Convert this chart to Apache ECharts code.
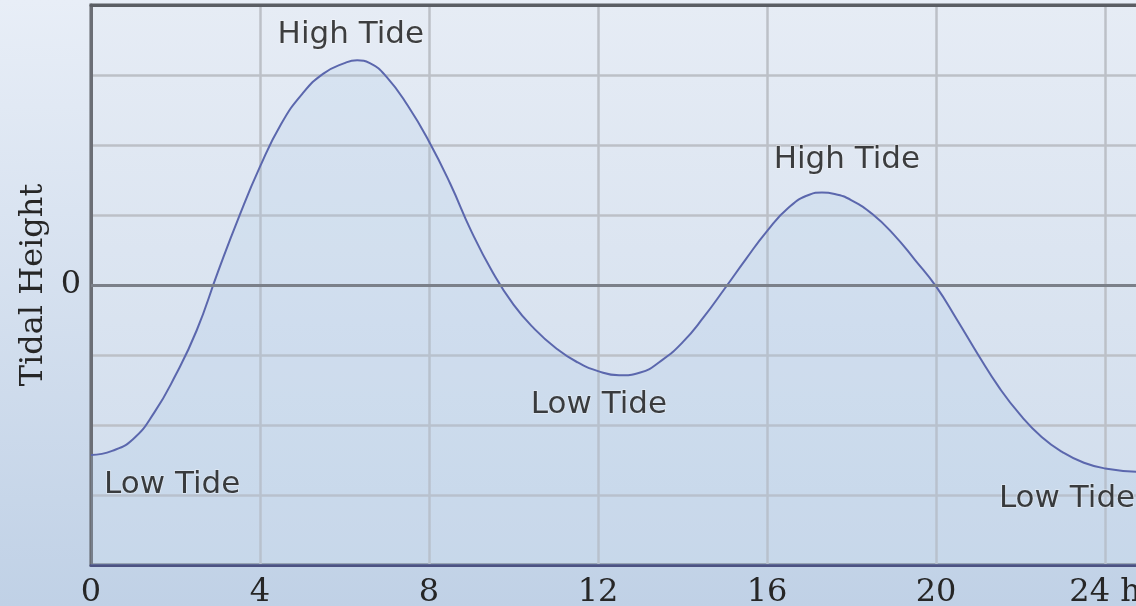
<!DOCTYPE html>
<html>
<head>
<meta charset="utf-8">
<script src="https://cdn.jsdelivr.net/npm/echarts@6/dist/echarts.min.js"></script>
<style>
html,body{margin:0;padding:0;width:1136px;height:606px;overflow:hidden;}
#chart{width:1136px;height:606px;}
</style>
</head>
<body>
<div id="chart"></div>
<script>
// Hours of the day and tidal height (arbitrary units, 0 = mean level)
const hours = [0, 0.5, 1, 1.5, 2, 2.5, 3, 3.5, 4, 4.5, 5, 5.5, 6, 6.3, 6.6, 7, 7.5, 8, 8.5, 9, 9.5, 10, 10.5, 11, 11.5, 12, 12.5, 13, 13.5, 14, 14.5, 15, 15.5, 16, 16.5, 17, 17.3, 17.6, 18, 18.5, 19, 19.5, 20, 20.5, 21, 21.5, 22, 22.5, 23, 23.5, 24, 24.78];
const heights = [-2.43, -2.37, -2.2, -1.82, -1.29, -0.65, 0.18, 0.97, 1.69, 2.3, 2.73, 3.02, 3.17, 3.21, 3.17, 2.97, 2.56, 2.05, 1.45, 0.77, 0.19, -0.28, -0.63, -0.9, -1.1, -1.23, -1.29, -1.25, -1.08, -0.82, -0.46, -0.05, 0.37, 0.77, 1.1, 1.29, 1.32, 1.3, 1.21, 1.01, 0.72, 0.36, -0.02, -0.5, -1.0, -1.47, -1.86, -2.17, -2.39, -2.54, -2.62, -2.67];
const annotations = [
  [6.15, 3.57, 'High Tide'],
  [17.89, 1.78, 'High Tide'],
  [1.92, -2.86, 'Low Tide'],
  [12.02, -1.72, 'Low Tide'],
  [23.1, -3.06, 'Low Tide']
];
const xTickLabels = {0:'0', 4:'4', 8:'8', 12:'12', 16:'16', 20:'20', 24:'24 h'};
const yTickLabels = {0:'0'};
const yName = 'Tidal Height';

const chart = echarts.init(document.getElementById('chart'));
const serif = 'DejaVu Serif';
const gridLine = {show:true, lineStyle:{color:'#bcc0c7', width:2.5}};
chart.setOption({
  animation:false,
  backgroundColor: new echarts.graphic.LinearGradient(0,0,0,1,[{offset:0,color:'#e8eef7'},{offset:1,color:'#c0d1e6'}]),
  grid:{left:91, right:-2, top:5, bottom:41, containLabel:false, outerBoundsMode:'none',
    show:true, borderColor:'#5b5e64', borderWidth:3,
    backgroundColor: new echarts.graphic.LinearGradient(0,0,0,1,[{offset:0,color:'#e6ecf5'},{offset:1,color:'#cfdcec'}])},
  xAxis:[
   {type:'value', min:0, max:24.78, interval:4,
    axisLine:{show:true, onZero:false, lineStyle:{color:'#4c5282', width:3}},
    axisTick:{show:false}, splitLine:gridLine,
    axisLabel:{margin:12, color:'#262626', fontFamily:serif, fontSize:32, showMaxLabel:false,
      formatter:v => xTickLabels[v] !== undefined ? xTickLabels[v] : ''}},
   {type:'value', position:'top', min:0, max:24.78, interval:4,
    axisLine:{show:true, onZero:false, lineStyle:{color:'#5b5e64', width:3}},
    axisTick:{show:false}, splitLine:{show:false}, axisLabel:{show:false}}
  ],
  yAxis:{type:'value', min:-4, max:4, interval:1,
    name:yName, nameLocation:'middle', nameRotate:90, nameGap:35,
    nameTextStyle:{color:'#262626', fontFamily:serif, fontSize:32},
    axisLine:{show:true, lineStyle:{color:'#6b6e75', width:3}},
    axisTick:{show:false}, splitLine:gridLine,
    axisLabel:{margin:10, color:'#262626', fontFamily:serif, fontSize:32,
      formatter:v => yTickLabels[v] !== undefined ? yTickLabels[v] : ''}},
  series:[
    {type:'line', data:hours.map((h,i)=>[h,heights[i]]), smooth:0.5, symbol:'none',
     lineStyle:{color:'#5b67ad', width:2},
     areaStyle:{origin:'start', color:'rgba(170,198,232,0.28)'},
     markLine:{silent:true, symbol:['none','none'], label:{show:false},
       lineStyle:{color:'#7b8089', width:3, type:'solid'}, data:[{yAxis:0}]},
     z:3},
    {type:'scatter', symbolSize:0, data:annotations, z:5,
     label:{show:true, position:'inside', formatter:p=>p.value[2],
       color:'#111111', fontFamily:'DejaVu Sans', fontSize:31,
       textBorderColor:'rgba(255,255,255,0.5)', textBorderWidth:1.5}}
  ]
});
</script>
</body>
</html>
